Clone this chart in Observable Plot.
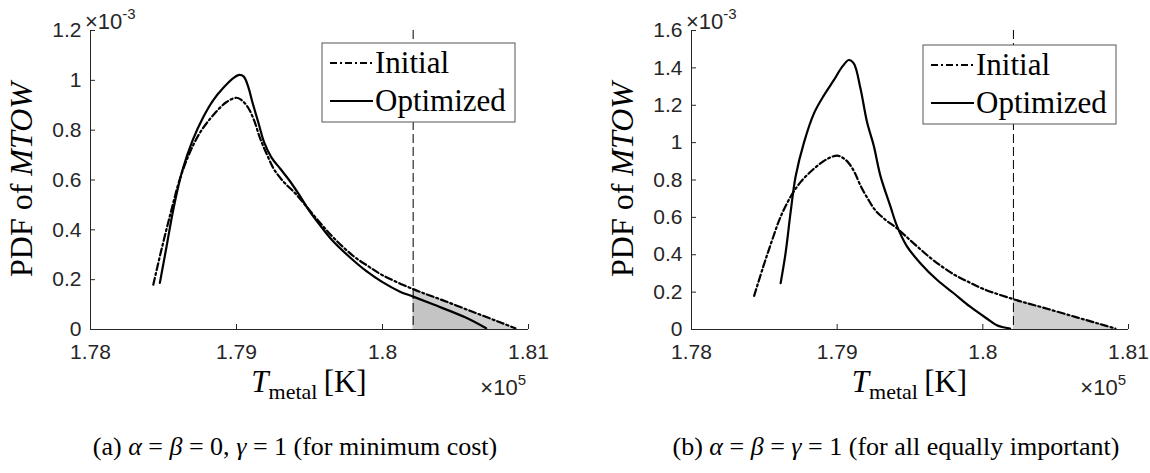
<!DOCTYPE html>
<html><head><meta charset="utf-8">
<script src="https://cdn.jsdelivr.net/npm/d3@7"></script>
<script src="https://cdn.jsdelivr.net/npm/@observablehq/plot@0.6"></script>
<style>
body{margin:0;background:#fff;}
#wrap{position:relative;width:1150px;height:473px;background:#fff;overflow:hidden;}
.panel{position:absolute;top:0;}
.cap{position:absolute;top:432px;font-family:"Liberation Serif","Times New Roman",serif;font-size:26px;color:#000;white-space:nowrap;transform:translateX(-50%);}
</style></head><body>
<div id="wrap"></div>
<script>
// ---- data (x in units of 1e5 K, y in units of 1e-3) ----
const xDomain = [1.78, 1.81];
const xTicks = [1.78, 1.79, 1.80, 1.81];
const yDomainA = [0, 1.2];
const yTicksA = [0, 0.2, 0.4, 0.6, 0.8, 1, 1.2];
const yDomainB = [0, 1.6];
const yTicksB = [0, 0.2, 0.4, 0.6, 0.8, 1, 1.2, 1.4, 1.6];
const threshold = 1.8021;

const initialX = [1.7843, 1.7849, 1.7855, 1.7861, 1.7868, 1.7875, 1.7884, 1.7893, 1.7900, 1.7904, 1.7908, 1.7912, 1.7916, 1.7921, 1.7926, 1.7933, 1.7940, 1.7947, 1.7957, 1.7967, 1.7980, 1.7990, 1.8000, 1.8021, 1.8041, 1.8064, 1.8080, 1.8091];
const initialY = [0.18, 0.33, 0.47, 0.60, 0.71, 0.79, 0.86, 0.912, 0.930, 0.918, 0.89, 0.84, 0.77, 0.70, 0.64, 0.588, 0.548, 0.50, 0.43, 0.365, 0.295, 0.255, 0.218, 0.162, 0.118, 0.066, 0.03, 0.005];

const optAX = [1.78475, 1.7852, 1.7857, 1.7863, 1.7870, 1.7877, 1.7884, 1.7891, 1.7898, 1.7902, 1.7905, 1.7908, 1.7911, 1.7915, 1.7919, 1.7924, 1.7930, 1.7936, 1.7943, 1.7950, 1.7957, 1.7966, 1.7978, 1.7989, 1.8000, 1.8012, 1.8021, 1.8035, 1.8057, 1.8071];
const optAY = [0.187, 0.33, 0.49, 0.64, 0.76, 0.85, 0.92, 0.97, 1.01, 1.022, 1.015, 0.975, 0.91, 0.83, 0.75, 0.69, 0.645, 0.60, 0.54, 0.475, 0.42, 0.355, 0.288, 0.234, 0.19, 0.152, 0.132, 0.10, 0.048, 0.005];

const optBX = [1.78612, 1.78646, 1.7868, 1.78715, 1.78772, 1.7884, 1.78909, 1.78977, 1.79034, 1.7908, 1.79114, 1.7916, 1.79205, 1.79251, 1.79297, 1.79365, 1.79411, 1.79479, 1.79571, 1.79685, 1.798, 1.79913, 1.80027, 1.80096, 1.80187];
const optBY = [0.248, 0.41, 0.625, 0.82, 1.0, 1.155, 1.253, 1.334, 1.405, 1.442, 1.424, 1.29, 1.11, 0.984, 0.822, 0.66, 0.553, 0.445, 0.355, 0.266, 0.194, 0.122, 0.059, 0.023, 0.005];

const legendLabels = ["Initial", "Optimized"];
const captions = ["(a) <i>α</i> = <i>β</i> = 0, <i>γ</i> = 1 (for minimum cost)",
                  "(b) <i>α</i> = <i>β</i> = <i>γ</i> = 1 (for all equally important)"];

const toRows = (xs, ys) => xs.map((x, i) => ({x, y: ys[i]}));
const initial = toRows(initialX, initialY);
const optA = toRows(optAX, optAY);
const optB = toRows(optBX, optBY);

const DASHDOT = "7,3,2,3";
const SERIF = '"Liberation Serif","Times New Roman",serif';
const SANS = '"Liberation Sans",Arial,sans-serif';
const AX = "#262626";

function panel({yDomain, yTicks, opt, areas, marginLeft, marginRight, legendX, legendY}) {
  const W = 575, H = 410, mt = 30, mb = 81;
  const frameW = W - marginLeft - marginRight, frameH = H - mt - mb;
  const svg = Plot.plot({
    width: W, height: H, marginLeft, marginRight, marginTop: mt, marginBottom: mb,
    x: {domain: xDomain}, y: {domain: yDomain},
    style: {fontFamily: SANS, fontSize: "21px", color: AX, background: "white", overflow: "visible"},
    marks: [
      ...areas.map(a => Plot.areaY(a.data.filter(d => d.x >= threshold - 1e-9), {x: "x", y: "y", fill: a.fill, curve: "catmull-rom"})),
      Plot.ruleX([threshold], {stroke: "#000", strokeWidth: 1, strokeDasharray: "9,4"}),
      Plot.line(initial, {x: "x", y: "y", stroke: "#000", strokeWidth: 2.2, strokeDasharray: DASHDOT, curve: "catmull-rom"}),
      Plot.line(opt, {x: "x", y: "y", stroke: "#000", strokeWidth: 2.2, curve: "catmull-rom"}),
      Plot.ruleY([yDomain[0]], {stroke: AX}),
      Plot.ruleX([xDomain[0]], {stroke: AX}),
      Plot.ruleX(xTicks, {stroke: AX, insetTop: frameH - 5}),
      Plot.ruleY(yTicks, {stroke: AX, insetRight: frameW - 5}),
      Plot.axisX({ticks: xTicks, tickSize: 0, tickPadding: 15, tickFormat: d => String(d), label: null}),
      Plot.axisY({ticks: yTicks, tickSize: 0, tickPadding: 9, tickFormat: d => String(d), label: null})
    ]
  });
  const s = d3.select(svg);
  // exponent labels
  const e1 = s.append("text").attr("x", marginLeft - 5).attr("y", mt - 1).attr("text-anchor", "start")
    .style("font-family", SANS).style("font-size", "22px").attr("fill", AX);
  e1.append("tspan").text("×10");
  e1.append("tspan").attr("dy", -10).style("font-size", "15px").text("-3");
  const e2 = s.append("text").attr("x", marginLeft + frameW - 2).attr("y", H - 15).attr("text-anchor", "end")
    .style("font-family", SANS).style("font-size", "22px").attr("fill", AX);
  e2.append("tspan").text("×10");
  e2.append("tspan").attr("dy", -10).style("font-size", "15px").text("5");
  // axis titles
  const xl = s.append("text").attr("x", marginLeft + frameW / 2).attr("y", H - 18).attr("text-anchor", "middle")
    .style("font-family", SERIF).style("font-size", "31px").attr("fill", "#000");
  xl.append("tspan").style("font-style", "italic").text("T");
  xl.append("tspan").attr("dy", 7).style("font-size", "22px").text("metal");
  xl.append("tspan").attr("dy", -7).text("\u2009[K]");
  const yl = s.append("text").attr("transform", `translate(${marginLeft - 58},${mt + frameH / 2}) rotate(-90)`)
    .attr("text-anchor", "middle").style("font-family", SERIF).style("font-size", "32px").attr("fill", "#000");
  yl.append("tspan").text("PDF of ");
  yl.append("tspan").style("font-style", "italic").text("MTOW");
  // legend
  const g = s.append("g");
  g.append("rect").attr("x", legendX).attr("y", legendY).attr("width", 193).attr("height", 79)
    .attr("fill", "white").attr("stroke", "#555").attr("stroke-width", 1);
  legendLabels.forEach((lab, i) => {
    const cy = legendY + 20 + i * 38;
    g.append("line").attr("x1", legendX + 8).attr("x2", legendX + 51).attr("y1", cy).attr("y2", cy)
      .attr("stroke", "#000").attr("stroke-width", 2.2).attr("stroke-dasharray", i === 0 ? DASHDOT : null);
    g.append("text").attr("x", legendX + 53).attr("y", cy + 10).attr("text-anchor", "start")
      .style("font-family", SERIF).style("font-size", "31px").attr("fill", "#000").text(lab);
  });
  return svg;
}

const wrap = document.getElementById("wrap");
const pA = panel({yDomain: yDomainA, yTicks: yTicksA, opt: optA,
  areas: [{data: initial, fill: "#d0d0d0"}, {data: optA, fill: "#c4c4c4"}],
  marginLeft: 90, marginRight: 47, legendX: 322, legendY: 43});
const pB = panel({yDomain: yDomainB, yTicks: yTicksB, opt: optB,
  areas: [{data: initial, fill: "#d0d0d0"}],
  marginLeft: 116, marginRight: 22, legendX: 348, legendY: 45});
const capCenters = [295, 896];
[pA, pB].forEach((p, i) => {
  const d = document.createElement("div");
  d.className = "panel"; d.style.left = (i * 575) + "px";
  d.appendChild(p); wrap.appendChild(d);
  const c = document.createElement("div");
  c.className = "cap"; c.style.left = capCenters[i] + "px";
  c.innerHTML = captions[i]; wrap.appendChild(c);
});
</script>
</body></html>
